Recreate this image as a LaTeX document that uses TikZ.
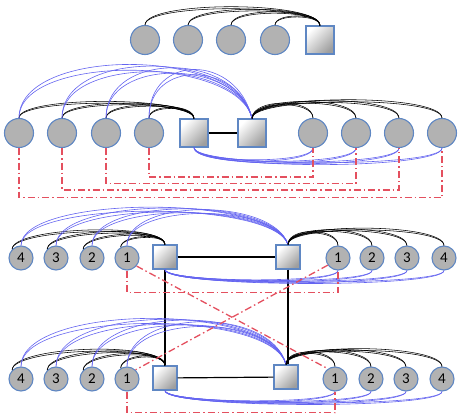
\documentclass[tikz,border=0pt]{standalone}
\usepackage{fontspec}
\setsansfont{Carlito}
\definecolor{cfill}{RGB}{178,178,178}
\definecolor{cedge}{RGB}{95,135,195}
\definecolor{bl}{RGB}{100,100,240}
\definecolor{rd}{RGB}{228,80,95}
\newcommand\lnk[7]{%
  \draw[#1] (#2) .. controls +(#3,#4) and +(#5,#6) .. (#7);%
  \draw[#1] (#2) .. controls +(#3,#4*1.12) and +(#5,#6*1.12) .. (#7);}
\begin{document}
\begin{tikzpicture}[x=1pt,y=-1pt,
  circ/.style={circle,draw=cedge,fill=cfill,line width=1.1pt,minimum size=29pt,inner sep=0pt},
  smc/.style={circ,minimum size=24pt,font=\sffamily\fontsize{15}{15}\selectfont},
  sq/.style={rectangle,draw=cedge,line width=1.1pt,top color=white,bottom color=black!38,shading angle=45,minimum size=28pt,inner sep=0pt},
  smsq/.style={sq,minimum size=24pt},
  blk/.style={draw=black,line width=0.55pt},
  blu/.style={draw=bl,line width=0.6pt},
  bar/.style={draw=black,line width=1.2pt},
  rdd/.style={draw=rd,line width=1.3pt,dash pattern=on 7pt off 3pt on 1.5pt off 3pt}]
\useasboundingbox (0,0) rectangle (461,417);
% ---------- row 1
\node[circ] (a1) at (145,40) {};
\node[circ] (a2) at (188,40) {};
\node[circ] (a3) at (231,40) {};
\node[circ] (a4) at (275,40) {};
\node[sq] (as) at (320,40) {};
\lnk{blk}{a1.north}{0}{-22}{0}{-22}{as.north}
\lnk{blk}{a2.north}{0}{-19}{0}{-19}{as.north}
\lnk{blk}{a3.north}{0}{-16}{0}{-16}{as.north}
\lnk{blk}{a4.north}{0}{-11}{0}{-11}{as.north}
% ---------- row 2
\node[circ] (b1) at (19,133) {};
\node[circ] (b2) at (62,133) {};
\node[circ] (b3) at (106,133) {};
\node[circ] (b4) at (149,133) {};
\node[sq] (bs1) at (194,133) {};
\node[sq] (bs2) at (252,133) {};
\node[circ] (b5) at (313,133) {};
\node[circ] (b6) at (356,133) {};
\node[circ] (b7) at (399,133) {};
\node[circ] (b8) at (442,133) {};
\draw[bar] (bs1) -- (bs2);
\lnk{blk}{b1.north}{0}{-20}{0}{-20}{bs1.north}
\lnk{blk}{b2.north}{0}{-18}{0}{-18}{bs1.north}
\lnk{blk}{b3.north}{0}{-16}{0}{-16}{bs1.north}
\lnk{blk}{b4.north}{0}{-13}{0}{-13}{bs1.north}
\lnk{blu}{b1.north}{0}{-64}{-15}{-64}{bs2.north}
\lnk{blu}{b2.north}{0}{-62}{-15}{-62}{bs2.north}
\lnk{blu}{b3.north}{0}{-60}{-15}{-60}{bs2.north}
\lnk{blu}{b4.north}{0}{-58}{-15}{-58}{bs2.north}
\lnk{blk}{bs2.north}{0}{-18}{0}{-18}{b5.north}
\lnk{blk}{bs2.north}{0}{-20}{0}{-20}{b6.north}
\lnk{blk}{bs2.north}{0}{-21}{0}{-21}{b7.north}
\lnk{blk}{bs2.north}{0}{-22}{0}{-22}{b8.north}
\lnk{blu}{b5.south}{0}{16}{0}{16}{bs1.south}
\lnk{blu}{b6.south}{0}{18}{0}{18}{bs1.south}
\lnk{blu}{b7.south}{0}{19}{0}{19}{bs1.south}
\lnk{blu}{b8.south}{0}{20}{0}{20}{bs1.south}
\draw[rdd] (b4.south) -- ++(0,29) -| (b5.south);
\draw[rdd] (b3.south) -- ++(0,35.5) -| (b6.south);
\draw[rdd] (b2.south) -- ++(0,42) -| (b7.south);
\draw[rdd] (b1.south) -- ++(0,49.5) -| (b8.south);
% ---------- row 3
\node[smc] (c4) at (21,258) {4};
\node[smc] (c3) at (56,258) {3};
\node[smc] (c2) at (92,258) {2};
\node[smc] (c1) at (127,258) {1};
\node[smsq] (cs1) at (165,257) {};
\node[smsq] (cs2) at (288,257) {};
\node[smc] (d1) at (338,258) {1};
\node[smc] (d2) at (372,258) {2};
\node[smc] (d3) at (407,258) {3};
\node[smc] (d4) at (444,258) {4};
% ---------- row 4
\node[smc] (e4) at (21,379) {4};
\node[smc] (e3) at (56,379) {3};
\node[smc] (e2) at (92,379) {2};
\node[smc] (e1) at (127,379) {1};
\node[smsq] (es1) at (165,378) {};
\node[smsq] (es2) at (286,377) {};
\node[smc] (f1) at (335,379) {1};
\node[smc] (f2) at (371,379) {2};
\node[smc] (f3) at (406,379) {3};
\node[smc] (f4) at (442,379) {4};
% bars between squares
\draw[bar] (cs1) -- (cs2);
\draw[bar] (es1) -- (es2);
\draw[bar] (cs1.south) -- (es1.north);
\draw[bar] (cs2.south) -- (cs2.south |- es2.north);
% row 3 curves
\lnk{blk}{c4.135}{0}{-20}{0}{-20}{cs1.north}
\lnk{blk}{c3.135}{0}{-18}{0}{-18}{cs1.north}
\lnk{blk}{c2.135}{0}{-15}{0}{-15}{cs1.north}
\lnk{blk}{c1.120}{0}{-11}{0}{-11}{cs1.north}
\lnk{blu}{c4.north}{0}{-45}{-15}{-45}{cs2.north}
\lnk{blu}{c3.north}{0}{-44}{-15}{-44}{cs2.north}
\lnk{blu}{c2.north}{0}{-43}{-15}{-43}{cs2.north}
\lnk{blu}{c1.north}{0}{-42}{-15}{-42}{cs2.north}
\lnk{blk}{cs2.north}{0}{-16}{0}{-16}{d1.north}
\lnk{blk}{cs2.north}{0}{-18}{0}{-18}{d2.north}
\lnk{blk}{cs2.north}{0}{-19}{0}{-19}{d3.north}
\lnk{blk}{cs2.north}{0}{-20}{0}{-20}{d4.north}
\lnk{blu}{d1.south}{0}{13}{0}{13}{cs1.south}
\lnk{blu}{d2.south}{0}{14}{0}{14}{cs1.south}
\lnk{blu}{d3.south}{0}{15}{0}{15}{cs1.south}
\lnk{blu}{d4.south}{0}{16}{0}{16}{cs1.south}
% row 4 curves
\lnk{blk}{e4.135}{0}{-22}{0}{-22}{es1.north}
\lnk{blk}{e3.135}{0}{-20}{0}{-20}{es1.north}
\lnk{blk}{e2.135}{0}{-17}{0}{-17}{es1.north}
\lnk{blk}{e1.120}{0}{-13}{0}{-13}{es1.north}
\lnk{blu}{e4.north}{0}{-56}{-15}{-56}{es2.north}
\lnk{blu}{e3.north}{0}{-55}{-15}{-55}{es2.north}
\lnk{blu}{e2.north}{0}{-54}{-15}{-54}{es2.north}
\lnk{blu}{e1.north}{0}{-52}{-15}{-52}{es2.north}
\lnk{blk}{es2.north}{0}{-16}{0}{-16}{f1.north}
\lnk{blk}{es2.north}{0}{-18}{0}{-18}{f2.north}
\lnk{blk}{es2.north}{0}{-19}{0}{-19}{f3.north}
\lnk{blk}{es2.north}{0}{-20}{0}{-20}{f4.north}
\lnk{blu}{f1.south}{0}{13}{0}{13}{es1.south}
\lnk{blu}{f2.south}{0}{14}{0}{14}{es1.south}
\lnk{blu}{f3.south}{0}{15}{0}{15}{es1.south}
\lnk{blu}{f4.south}{0}{16}{0}{16}{es1.south}
% red dash-dot links
\draw[rdd] (c1.south) -- ++(0,22) -| (d1.south);
\draw[rdd] (e1.south) -- ++(0,21) -| (f1.south);
\draw[rdd] (c1.-40) -- (f1.125);
\draw[rdd] (d1.215) -- (e1.47);
\end{tikzpicture}
\end{document}
